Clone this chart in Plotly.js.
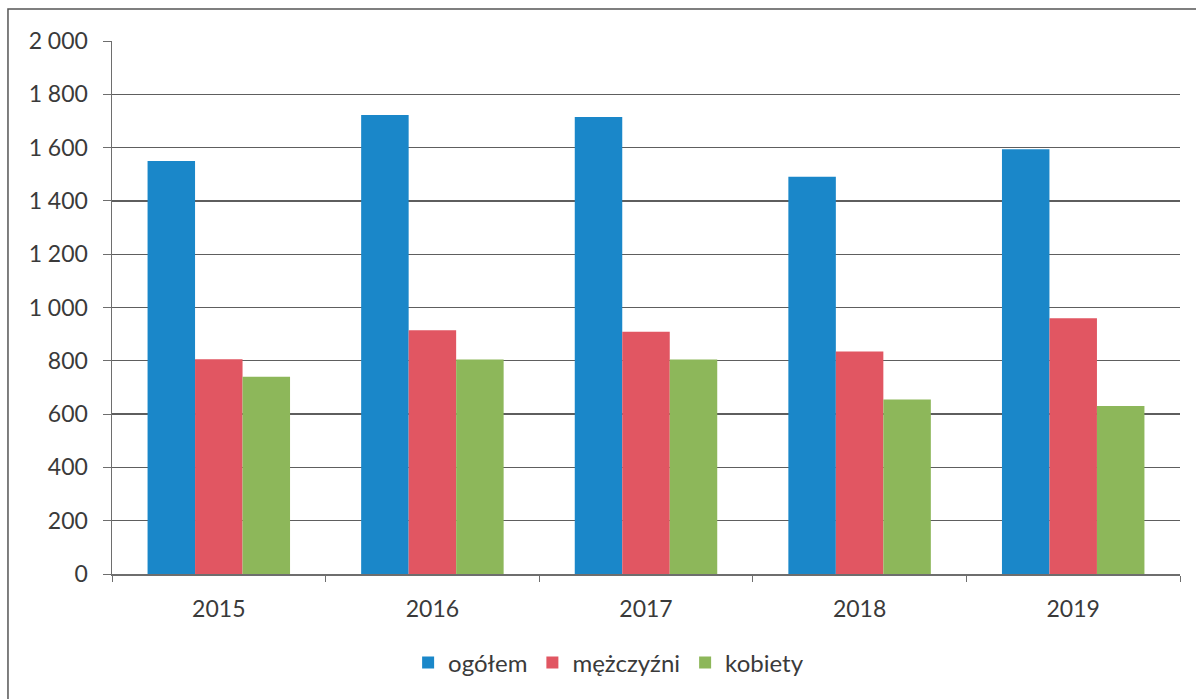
<!DOCTYPE html>
<html>
<head>
<meta charset="utf-8">
<script src="https://cdn.plot.ly/plotly-3.0.1.min.js"></script>
<style>html,body{margin:0;padding:0;background:#fff;}#chart{width:1196px;height:699px;}</style>
</head>
<body>
<div id="chart"></div>
<script>
const years = ["2015", "2016", "2017", "2018", "2019"];
const ogolem = [1550, 1722, 1715, 1491, 1594];
const mezczyzni = [806, 915, 909, 835, 960];
const kobiety = [740, 805, 805, 655, 630];
const seriesNames = ["ogółem", "mężczyźni", "kobiety"];
const seriesColors = ["#1a87c9", "#e15662", "#8db75a"];
const yTickVals = [0, 200, 400, 600, 800, 1000, 1200, 1400, 1600, 1800, 2000];
const yTickText = ["0", "200", "400", "600", "800", "1 000", "1 200", "1 400", "1 600", "1 800", "2 000"];

const values = [ogolem, mezczyzni, kobiety];
const traces = values.map((v, i) => ({
  type: "bar",
  x: years,
  y: v,
  name: seriesNames[i],
  marker: {color: seriesColors[i], line: {width: 0}},
  hoverinfo: "x+y+name"
}));

const tickFont = {family: "Lato, 'Open Sans', sans-serif", size: 23, color: "#3a3a3a"};
const legendFont = {family: "Lato, 'Open Sans', sans-serif", size: 24, color: "#3a3a3a"};

const layout = {
  width: 1196,
  height: 699,
  margin: {l: 112, r: 16, t: 41, b: 125},
  paper_bgcolor: "#ffffff",
  plot_bgcolor: "#ffffff",
  font: tickFont,
  barmode: "group",
  bargap: 0.333,
  bargroupgap: 0,
  showlegend: true,
  legend: {
    orientation: "h",
    x: 0.465, xanchor: "center",
    y: -0.167, yanchor: "middle",
    font: legendFont,
    itemclick: false
  },
  xaxis: {
    type: "category",
    showline: true, linecolor: "#6e6e6e", linewidth: 1.5,
    ticks: "outside", tickson: "boundaries", ticklen: 6, tickcolor: "#6e6e6e",
    ticklabelstandoff: 14,
    showgrid: false, zeroline: false,
    tickfont: tickFont
  },
  yaxis: {
    range: [0, 2000],
    tickvals: yTickVals,
    ticktext: yTickText,
    showline: true, linecolor: "#6e6e6e", linewidth: 1.5,
    ticks: "outside", ticklen: 8, tickcolor: "#6e6e6e",
    ticklabelstandoff: 10,
    showgrid: true, gridcolor: "#5e5e5e", gridwidth: 1.3,
    zeroline: false,
    tickfont: tickFont
  },
  shapes: [{
    type: "rect", xref: "paper", yref: "paper",
    x0: -0.0974, x1: 1.1, y0: -0.3, y1: 1.06,
    line: {color: "#555555", width: 1.5}, fillcolor: "rgba(0,0,0,0)", layer: "below"
  }]
};

Plotly.newPlot("chart", traces, layout, {displayModeBar: false, staticPlot: true});
</script>
</body>
</html>
